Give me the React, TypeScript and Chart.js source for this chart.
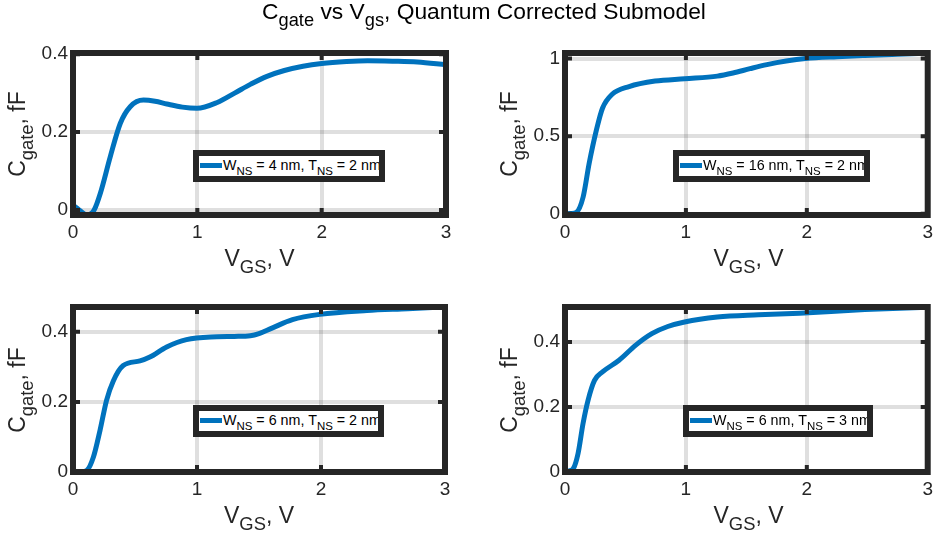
import React, { useEffect, useRef } from "react";
import { Chart, registerables } from "chart.js";

Chart.register(...registerables);

// ---------- data ----------
const vgsA = [0, 0.05, 0.115, 0.17, 0.22, 0.3, 0.38, 0.46, 0.567, 0.66, 0.755, 0.88, 0.997, 1.16, 1.3, 1.43, 1.56, 1.7, 1.85, 2.0, 2.2, 2.37, 2.57, 2.77, 3.0];
const cgateA = [0.012, 0.0, -0.013, 0.0, 0.043, 0.137, 0.222, 0.265, 0.282, 0.279, 0.272, 0.264, 0.261, 0.276, 0.3, 0.323, 0.343, 0.358, 0.369, 0.376, 0.381, 0.383, 0.382, 0.38, 0.373];

const vgsB = [0, 0.05, 0.095, 0.15, 0.2, 0.26, 0.31, 0.39, 0.53, 0.745, 0.99, 1.26, 1.39, 1.53, 1.67, 1.83, 1.99, 2.25, 2.48, 2.75, 3.0];
const cgateB = [0, 0.002, 0.01, 0.108, 0.325, 0.54, 0.68, 0.77, 0.82, 0.855, 0.87, 0.887, 0.907, 0.935, 0.961, 0.984, 1.0, 1.012, 1.02, 1.028, 1.035];

const vgsC = [0, 0.06, 0.11, 0.164, 0.218, 0.27, 0.325, 0.405, 0.54, 0.62, 0.755, 0.915, 1.16, 1.3, 1.43, 1.5, 1.6, 1.77, 1.99, 2.37, 2.7, 3.0];
const cgateC = [0, 0.0, 0.004, 0.042, 0.119, 0.204, 0.26, 0.304, 0.317, 0.328, 0.357, 0.378, 0.386, 0.387, 0.389, 0.395, 0.41, 0.435, 0.45, 0.461, 0.466, 0.471];

const vgsD = [0, 0.03, 0.068, 0.108, 0.149, 0.19, 0.244, 0.31, 0.447, 0.583, 0.718, 0.85, 0.989, 1.26, 1.6, 1.94, 2.48, 3.0];
const cgateD = [0, 0.003, 0.01, 0.057, 0.149, 0.22, 0.282, 0.308, 0.344, 0.39, 0.426, 0.448, 0.462, 0.477, 0.484, 0.489, 0.5, 0.507];

const xTicks = [0, 1, 2, 3];
const yTicksA = [0, 0.2, 0.4];
const yTicksB = [0, 0.5, 1];
const yTicksC = [0, 0.2, 0.4];
const yTicksD = [0, 0.2, 0.4];

const wnsValues = ["4", "16", "6", "6"];
const tnsValues = ["2", "2", "2", "3"];

const titleMain = "Quantum Corrected Submodel";

// ---------- style / layout ----------
const W = 939;
const H = 538;
const FONT = '"Liberation Sans", Arial, Helvetica, sans-serif';
const INK = "#262626";
const BLUE = "#0072BD";
const GRID = "rgba(38,38,38,0.15)";

const panels = [
  { x: vgsA, y: cgateA, yTicks: yTicksA, yMin: -0.013, yMax: 0.403, area: { left: 73, top: 53, right: 446, bottom: 215 },
    legend: { left: 193, top: 150, width: 192, textLeft: 24 } },
  { x: vgsB, y: cgateB, yTicks: yTicksB, yMin: -0.008, yMax: 1.036, area: { left: 565, top: 53, right: 932, bottom: 215 },
    legend: { left: 673, top: 150, width: 197, textLeft: 24 } },
  { x: vgsC, y: cgateC, yTicks: yTicksC, yMin: 0, yMax: 0.471, area: { left: 73, top: 307, right: 445, bottom: 472 },
    legend: { left: 193, top: 405, width: 191, textLeft: 24 } },
  { x: vgsD, y: cgateD, yTicks: yTicksD, yMin: 0, yMax: 0.508, area: { left: 565, top: 307, right: 932, bottom: 472 },
    legend: { left: 683, top: 405, width: 190, textLeft: 24 } },
];

const boxPlugin = {
  id: "matlabBox",
  afterDatasetsDraw(chart: any) {
    const { ctx, chartArea: a, scales } = chart;
    ctx.save();
    ctx.strokeStyle = INK;
    ctx.lineWidth = 4;
    const tl = 7;
    ctx.beginPath();
    scales.x.ticks.forEach((t: any) => {
      const px = scales.x.getPixelForValue(t.value);
      ctx.moveTo(px, a.bottom); ctx.lineTo(px, a.bottom - tl);
      ctx.moveTo(px, a.top); ctx.lineTo(px, a.top + tl);
    });
    scales.y.ticks.forEach((t: any) => {
      const py = scales.y.getPixelForValue(t.value);
      ctx.moveTo(a.left, py); ctx.lineTo(a.left + tl, py);
      ctx.moveTo(a.right, py); ctx.lineTo(a.right - tl, py);
    });
    ctx.stroke();
    ctx.lineWidth = 6;
    ctx.lineJoin = "miter";
    ctx.strokeRect(a.left, a.top, a.right - a.left, a.bottom - a.top);
    ctx.restore();
  },
};

function Sub({ children }: { children: any }) {
  return (
    <span style={{ fontSize: "0.8em", position: "relative", top: "0.42em" }}>{children}</span>
  );
}

function Panel({ p }: { p: any }) {
  const ref = useRef<HTMLCanvasElement>(null);
  useEffect(() => {
    const chart = new Chart(ref.current as HTMLCanvasElement, {
      type: "line",
      data: {
        datasets: [
          {
            data: p.x.map((x: number, i: number) => ({ x, y: p.y[i] })),
            borderColor: BLUE,
            borderWidth: 5,
            pointRadius: 0,
            fill: false,
            cubicInterpolationMode: "monotone",
          },
        ],
      },
      options: {
        responsive: false,
        animation: false,
        devicePixelRatio: 1,
        events: [],
        layout: { padding: { top: p.area.top, right: W - p.area.right, left: 0, bottom: 0 } },
        plugins: { legend: { display: false }, tooltip: { enabled: false }, title: { display: false } },
        scales: {
          x: {
            type: "linear",
            min: 0,
            max: 3,
            afterBuildTicks: (s: any) => { s.ticks = xTicks.map((v) => ({ value: v })); },
            afterFit: (s: any) => { s.height = H - p.area.bottom; },
            grid: { color: GRID, lineWidth: 4, drawTicks: false },
            border: { display: false },
            ticks: { color: INK, font: { family: FONT, size: 19 }, padding: 6, maxRotation: 0, autoSkip: false, callback: (v: any) => String(v) },
          },
          y: {
            type: "linear",
            min: p.yMin,
            max: p.yMax,
            afterBuildTicks: (s: any) => { s.ticks = p.yTicks.map((v: number) => ({ value: v })); },
            afterFit: (s: any) => { s.width = p.area.left; },
            grid: { color: GRID, lineWidth: 4, drawTicks: false },
            border: { display: false },
            ticks: { color: INK, font: { family: FONT, size: 19 }, padding: 5, autoSkip: false, callback: (v: any) => String(v) },
          },
        },
      } as any,
      plugins: [boxPlugin],
    });
    return () => chart.destroy();
  }, []);
  return <canvas ref={ref} width={W} height={H} style={{ position: "absolute", left: 0, top: 0, width: W, height: H }} />;
}

export default function App() {
  const labelFont = 23;
  const titleFont = 22.8;
  const legendFont = 14.3;
  return (
    <div style={{ position: "absolute", left: 0, top: 0, width: W, height: H, overflow: "hidden", background: "#fff", fontFamily: FONT, color: INK }}>
      {panels.map((p, i) => (
        <Panel key={i} p={p} />
      ))}
      {/* title */}
      <div style={{ position: "absolute", left: 484, top: 19 - 0.8465 * titleFont, transform: "translateX(-50%)", whiteSpace: "nowrap", fontSize: titleFont, lineHeight: 1, color: "#000" }}>
        C<Sub>gate</Sub> vs V<Sub>gs</Sub>, {titleMain}
      </div>
      {panels.map((p, i) => {
        const cx = (p.area.left + p.area.right) / 2;
        const cy = (p.area.top + p.area.bottom) / 2;
        const baseline = p.area.bottom + 51;
        return (
          <React.Fragment key={"l" + i}>
            <div style={{ position: "absolute", left: cx, top: baseline - 0.8465 * labelFont, transform: "translateX(-50%)", whiteSpace: "nowrap", fontSize: labelFont, lineHeight: 1 }}>
              V<Sub>GS</Sub>, V
            </div>
            <div style={{ position: "absolute", left: p.area.left - 56, top: cy, transform: "translate(-50%, -50%) rotate(-90deg)", whiteSpace: "nowrap", fontSize: labelFont, lineHeight: 1 }}>
              C<Sub>gate</Sub>, fF
            </div>
            <div style={{ position: "absolute", left: p.legend.left, top: p.legend.top, width: p.legend.width, height: 32, boxSizing: "border-box", border: `6px solid ${INK}`, background: "#fff", overflow: "hidden" }}>
              <div style={{ position: "absolute", left: 1, top: 6.5, width: 22, height: 5, background: BLUE }} />
              <div style={{ position: "absolute", left: p.legend.textLeft, top: 14.5 - 0.8465 * legendFont, fontSize: legendFont, lineHeight: 1, whiteSpace: "nowrap", color: "#000" }}>
                W<Sub>NS</Sub> = {wnsValues[i]} nm, T<Sub>NS</Sub> = {tnsValues[i]} nm
              </div>
            </div>
          </React.Fragment>
        );
      })}
    </div>
  );
}
